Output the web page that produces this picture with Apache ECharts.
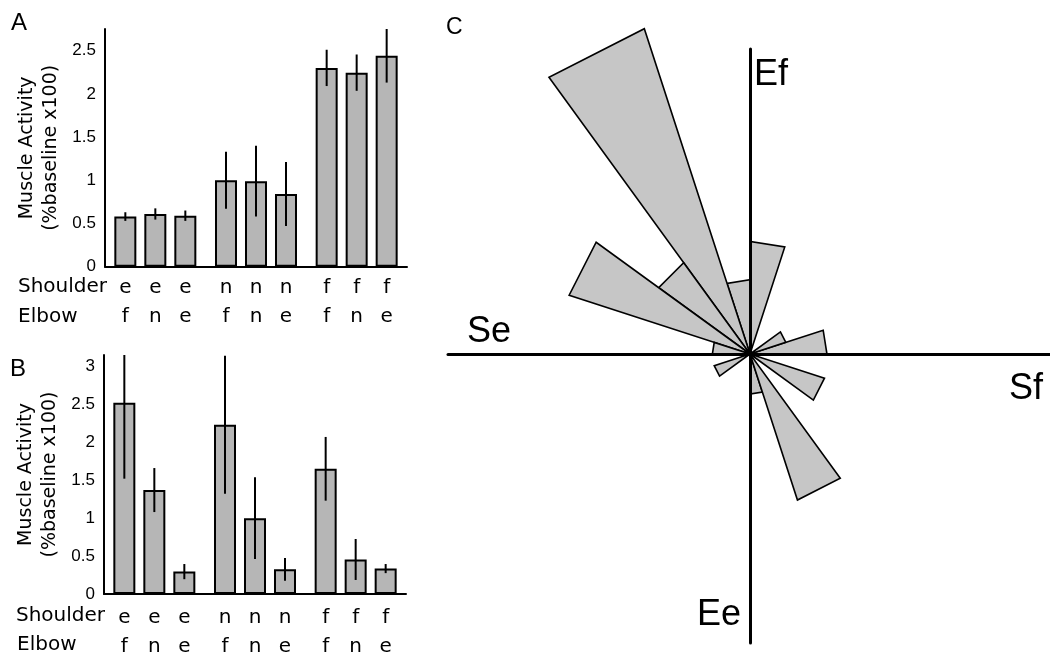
<!DOCTYPE html>
<html><head><meta charset="utf-8">
<script src="https://cdn.jsdelivr.net/npm/echarts@6/dist/echarts.min.js"></script>
<style>html,body{margin:0;padding:0;background:#fff}#c{width:1050px;height:654px}</style>
</head><body><div id="c"></div>
<script>
// ---- data ----
const shoulderLabels = ['e','e','e','n','n','n','f','f','f'];
const elbowLabels    = ['f','n','e','f','n','e','f','n','e'];
const shoulderGroups = ['e','n','f'];
const elbowOrder     = ['f','n','e'];
const meanA = [0.58, 0.61, 0.59, 1.00, 0.99, 0.84, 2.30, 2.245, 2.44];
const errA  = [0.05, 0.065, 0.06, 0.33, 0.41, 0.37, 0.21, 0.21, 0.31];
const meanB = [2.52, 1.37, 0.295, 2.23, 1.00, 0.325, 1.65, 0.455, 0.335];
const errB  = [1.00, 0.29, 0.10, 0.91, 0.54, 0.15, 0.42, 0.27, 0.06];
const yMaxA = 2.75, yMaxB = 3.15, yInterval = 0.5;
const yName = 'Muscle Activity\n(%baseline x100)';
const rowTitles = ['Shoulder', 'Elbow'];
const sectorStart = [0, 18, 36, 54, 72, 90, 108, 126, 144, 162, 180, 198, 216, 234, 252, 270, 288, 306, 324, 342];
const sectorWidth = 18;
const roseValues  = [2.25, 1.10, 0, 0, 3.29, 2.17, 10.0, 3.30, 5.56, 1.10, 0, 1.10, 0, 0, 0, 1.17, 4.49, 0, 2.29, 0];
const roseMax = 10;
const axisNames = {east: 'Sf', north: 'Ef', west: 'Se', south: 'Ee'};
const panelLetters = ['A', 'B', 'C'];

// ---- styles ----
const SANS = 'Liberation Sans, Arial, sans-serif';
const WIDE = 'DejaVu Sans, sans-serif';
const BAR_W = 22, BAR_GAP = 8 / 22, BAR_STEP = BAR_W * (1 + BAR_GAP);
const barFill = '#b6b6b6';
const roseFill = '#c6c6c6';

function panelAxes(gridIndex, yMax) {
  return {
    x: {
      type: 'category', gridIndex, data: shoulderGroups,
      axisLine: {lineStyle: {color: '#000', width: 2}},
      axisTick: {show: false}, axisLabel: {show: false}, splitLine: {show: false}
    },
    y: {
      type: 'value', gridIndex, min: 0, max: yMax, interval: yInterval,
      name: yName, nameLocation: 'middle', nameGap: 42,
      nameTextStyle: {fontFamily: WIDE, fontSize: 19, lineHeight: 24, color: '#000'},
      axisLine: {show: true, lineStyle: {color: '#000', width: 2}},
      axisTick: {show: false}, splitLine: {show: false},
      axisLabel: {color: '#000', fontFamily: SANS, fontSize: 17, margin: 9, showMaxLabel: false,
        formatter: v => String(v)}
    }
  };
}

function panelSeries(axisIndex, mean, err, labelDist) {
  const out = [];
  elbowOrder.forEach((el, j) => {
    out.push({
      type: 'bar', name: el, xAxisIndex: axisIndex, yAxisIndex: axisIndex,
      data: shoulderGroups.map((s, g) => mean[g * 3 + j]),
      barWidth: BAR_W, barGap: (BAR_GAP * 100).toFixed(2) + '%',
      itemStyle: {color: barFill, borderColor: '#000', borderWidth: 2},
      label: {show: true, position: 'bottom', distance: labelDist,
        fontFamily: WIDE, fontSize: 20, lineHeight: 29, color: '#000',
        formatter: p => shoulderLabels[p.dataIndex * 3 + j] + '\n' + elbowLabels[p.dataIndex * 3 + j]},
      emphasis: {disabled: true}, silent: true, z: 2
    });
  });
  out.push({
    type: 'custom', xAxisIndex: axisIndex, yAxisIndex: axisIndex, z: 5, silent: true,
    data: mean.map((m, i) => [Math.floor(i / 3), m - err[i], m + err[i], i % 3]),
    encode: {x: 0, y: [1, 2]},
    renderItem: (params, api) => {
      const g = api.value(0), j = api.value(3);
      const lo = api.coord([g, api.value(1)]);
      const hi = api.coord([g, api.value(2)]);
      const top = Math.max(hi[1], params.coordSys.y);
      const dx = (j - 1) * BAR_STEP;
      return {type: 'line', shape: {x1: lo[0] + dx, y1: lo[1], x2: hi[0] + dx, y2: top},
        style: {stroke: '#000', lineWidth: 2}};
    }
  });
  return out;
}

const aAx = panelAxes(0, yMaxA), bAx = panelAxes(1, yMaxB);

function txt(text, left, top, font) {
  return {type: 'text', left, top, style: {text, fill: '#000', font}};
}

const option = {
  backgroundColor: '#fff',
  animation: false,
  grid: [
    {left: 105, top: 29, width: 302, height: 237.7, outerBoundsMode: 'none'},
    {left: 104, top: 355, width: 302, height: 239, outerBoundsMode: 'none'},
    {left: 448, top: 49, width: 602, height: 594, outerBoundsMode: 'none'}
  ],
  xAxis: [aAx.x, bAx.x, {
    type: 'value', gridIndex: 2, min: -302, max: 300, z: 10,
    axisLine: {show: true, onZero: true, lineStyle: {color: '#000', width: 3}},
    axisTick: {show: false}, axisLabel: {show: false}, splitLine: {show: false}
  }],
  yAxis: [aAx.y, bAx.y, {
    type: 'value', gridIndex: 2, min: -289, max: 305, z: 10,
    axisLine: {show: true, onZero: true, lineStyle: {color: '#000', width: 3}},
    axisTick: {show: false}, axisLabel: {show: false}, splitLine: {show: false}
  }],
  polar: {center: [750, 354], radius: [0, 342]},
  angleAxis: {
    type: 'value', min: 0, max: 360, startAngle: 0, clockwise: false,
    axisLine: {show: false}, axisTick: {show: false}, axisLabel: {show: false}, splitLine: {show: false}
  },
  radiusAxis: {
    type: 'value', min: 0, max: roseMax,
    axisLine: {show: false}, axisTick: {show: false}, axisLabel: {show: false}, splitLine: {show: false}
  },
  series: [
    ...panelSeries(0, meanA, errA, 7),
    ...panelSeries(1, meanB, errB, 9),
    {
      type: 'custom', coordinateSystem: 'polar', silent: true, z: 3,
      data: sectorStart.map((a, i) => [roseValues[i], a, a + sectorWidth]),
      encode: {radius: 0, angle: [1, 2]},
      renderItem: (params, api) => {
        const r = api.value(0);
        if (!r) return null;
        const p0 = api.coord([0, api.value(1)]);
        const p1 = api.coord([r, api.value(1)]);
        const p2 = api.coord([r, api.value(2)]);
        return {type: 'polygon', shape: {points: [p0, p1, p2]},
          style: {fill: roseFill, stroke: '#000', lineWidth: 1.6, lineJoin: 'miter'}};
      }
    }
  ],
  graphic: [
    txt(panelLetters[0], 11, 11, '24px ' + SANS),
    txt(panelLetters[1], 10, 357, '24px ' + SANS),
    txt(panelLetters[2], 446, 16, '23px ' + SANS),
    txt(rowTitles[0], 18, 277, '20px ' + WIDE),
    txt(rowTitles[1], 18, 307, '20px ' + WIDE),
    txt(rowTitles[0], 16, 606, '20px ' + WIDE),
    txt(rowTitles[1], 17, 635, '20px ' + WIDE),
    txt(axisNames.north, 754, 57, '36px ' + SANS),
    txt(axisNames.west, 467, 314, '36px ' + SANS),
    txt(axisNames.east, 1009, 371, '36px ' + SANS),
    txt(axisNames.south, 697, 597, '36px ' + SANS)
  ]
};

const chart = echarts.init(document.getElementById('c'), null, {renderer: 'canvas'});
chart.setOption(option);
</script></body></html>
